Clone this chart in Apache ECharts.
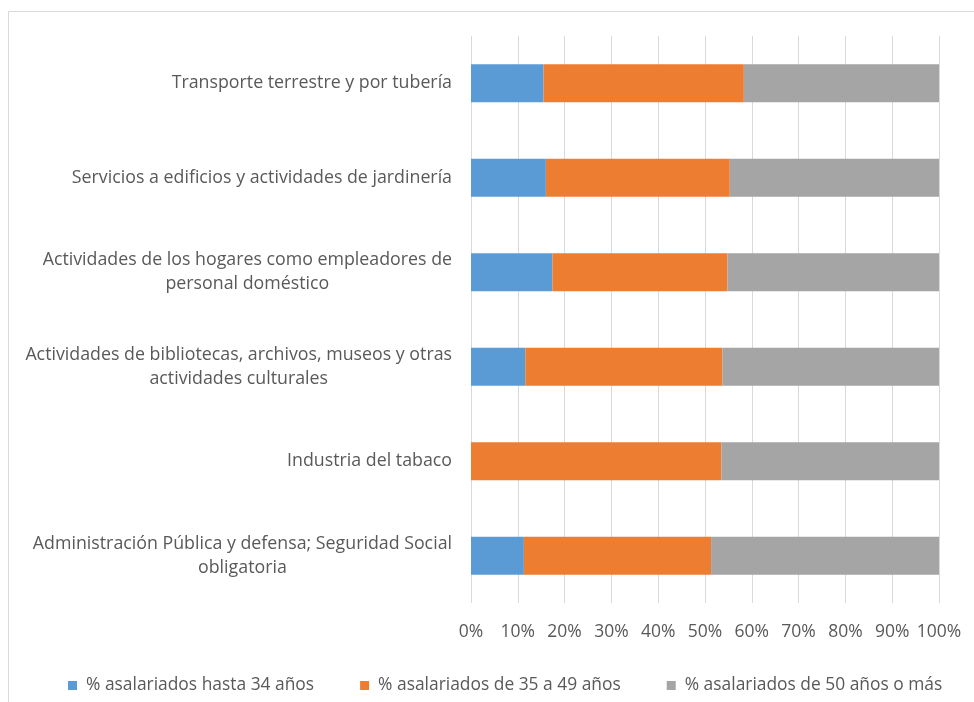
<!DOCTYPE html>
<html>
<head>
<meta charset="utf-8">
<script src="https://cdn.jsdelivr.net/npm/echarts@6/dist/echarts.min.js"></script>
<style>
  html, body { margin: 0; padding: 0; background: #fff; }
  #chart { width: 974px; height: 702px; }
</style>
</head>
<body>
<div id="chart"></div>
<script>
// categories listed bottom to top (category y axis starts at the bottom)
const categories = [
  'Administración Pública y defensa; Seguridad Social\nobligatoria',
  'Industria del tabaco',
  'Actividades de bibliotecas, archivos, museos y otras\nactividades culturales',
  'Actividades de los hogares como empleadores de\npersonal doméstico',
  'Servicios a edificios y actividades de jardinería',
  'Transporte terrestre y por tubería'
];
const seriesNames = [
  '% asalariados hasta 34 años',
  '% asalariados de 35 a 49 años',
  '% asalariados de 50 años o más'
];
const hasta34 = [11.3, 0, 11.6, 17.4, 16.0, 15.5];
const de35a49 = [40.0, 53.5, 42.1, 37.4, 39.3, 42.8];
const mas50 = [48.7, 46.5, 46.3, 45.2, 44.7, 41.7];

const colors = ['#5B9BD5', '#ED7D31', '#A5A5A5'];
const font = '"Open Sans", Lato, sans-serif';
const textColor = '#595959';

function bar(name, data) {
  return {
    name: name,
    type: 'bar',
    stack: 'total',
    barWidth: 38,
    data: data
  };
}

const chart = echarts.init(document.getElementById('chart'));
chart.setOption({
  animation: false,
  color: colors,
  textStyle: { fontFamily: font },
  graphic: [{
    type: 'rect',
    shape: { x: 8.5, y: 11.5, width: 1000, height: 1000 },
    style: { fill: 'none', stroke: '#d9d9d9', lineWidth: 1 },
    z: -1
  }],
  grid: { left: 471, right: 35, top: 36, bottom: 99 },
  legend: {
    left: 63,
    top: 672,
    itemWidth: 9,
    itemHeight: 9,
    itemGap: 46,
    icon: 'rect',
    textStyle: { fontSize: 17.4, color: textColor, fontFamily: font, padding: [0, 0, 0, 4] },
    data: seriesNames
  },
  xAxis: {
    type: 'value',
    min: 0,
    max: 100,
    interval: 10,
    axisLine: { show: false },
    axisTick: { show: false },
    splitLine: { lineStyle: { color: '#d9d9d9', width: 1 } },
    axisLabel: {
      formatter: '{value}%',
      margin: 20,
      fontSize: 17.5,
      color: textColor,
      fontFamily: font
    }
  },
  yAxis: {
    type: 'category',
    data: categories,
    axisLine: { show: false },
    axisTick: { show: false },
    axisLabel: {
      margin: 19,
      fontSize: 17.8,
      color: textColor,
      fontFamily: font,
      lineHeight: 24,
      formatter: function (v) {
        return v.split('\n').map(function (l) { return '{c|' + l + '}'; }).join('\n');
      },
      rich: {
        c: { align: 'center', fontSize: 17.8, color: textColor, fontFamily: font, lineHeight: 24 }
      }
    }
  },
  series: [
    bar(seriesNames[0], hasta34),
    bar(seriesNames[1], de35a49),
    bar(seriesNames[2], mas50)
  ]
});
</script>
</body>
</html>
